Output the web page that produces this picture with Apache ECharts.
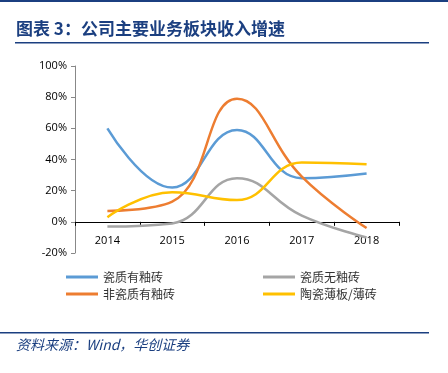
<!DOCTYPE html>
<html><head><meta charset="utf-8">
<script src="https://cdn.jsdelivr.net/npm/echarts@6/dist/echarts.min.js"></script>
<style>html,body{margin:0;padding:0;background:#fff}#c{width:448px;height:373px}</style>
</head><body><div id="c"></div>
<script>
var categories = ['2014','2015','2016','2017','2018'];
var seriesNames = ['瓷质有釉砖','非瓷质有釉砖','瓷质无釉砖','陶瓷薄板/薄砖'];
var glazedPorcelain = [60, 22, 59, 28, 31];
var glazedNonPorcelain = [7, 13, 79, 29, -4];
var unglazedPorcelain = [-3, -1, 28, 4, -10];
var thinPanel = [3, 19, 14, 38, 37];
var yTicks = {min: -20, max: 100, interval: 20};
var colors = ['#5B9BD5','#ED7D31','#A5A5A5','#FFC000'];
var values = [glazedPorcelain, glazedNonPorcelain, unglazedPorcelain, thinPanel];

var chart = echarts.init(document.getElementById('c'));
var navy = '#1B3F80';
var legendText = {fontFamily:'Noto Sans CJK SC', fontSize:12, color:'#333'};
chart.setOption({
  animation:false,
  color: colors,
  grid:{left:75, right:49, top:66, bottom:120, containLabel:false},
  legend:[
    {data:[seriesNames[0], seriesNames[1]], orient:'vertical', left:61, top:266, itemWidth:32, itemHeight:3, itemGap:5, textStyle:legendText, icon:'rect'},
    {data:[seriesNames[2], seriesNames[3]], orient:'vertical', left:258, top:266, itemWidth:32, itemHeight:3, itemGap:5, textStyle:legendText, icon:'rect'}
  ],
  xAxis:{type:'category', data:categories, boundaryGap:true,
    axisLine:{onZero:true, lineStyle:{color:'#000', width:1}},
    axisTick:{show:true, length:4, lineStyle:{color:'#000'}},
    axisLabel:{fontFamily:'Open Sans', fontSize:11, color:'#000', margin:-18}},
  yAxis:{type:'value', min:yTicks.min, max:yTicks.max, interval:yTicks.interval,
    axisLine:{show:true, lineStyle:{color:'#888'}},
    axisTick:{show:true, length:4, lineStyle:{color:'#888'}},
    splitLine:{show:false},
    axisLabel:{formatter:'{value}%', fontFamily:'Open Sans', fontSize:11, color:'#000', margin:8}},
  series: seriesNames.map(function(n,i){return {name:n, type:'line', smooth:0.45, data:values[i], showSymbol:false, symbol:'none', lineStyle:{width:2.5, color:colors[i]}, z: i===3?5:3};}),
  graphic:[
    {type:'rect', shape:{x:0,y:0,width:448,height:2}, style:{fill:navy}},
    {type:'text', left:16, top:20, style:{text:'图表 3：公司主要业务板块收入增速', font:'bold 17px "Noto Sans CJK SC"', fill:navy}},
    {type:'rect', shape:{x:15,y:42,width:414,height:1.5}, style:{fill:navy}},
    {type:'rect', shape:{x:0,y:332,width:429,height:1.5}, style:{fill:navy}},
    {type:'text', left:16, top:338, style:{text:'资料来源：Wind，华创证券', font:'italic 14px "Noto Sans CJK SC"', fill:navy}}
  ]
});
</script></body></html>
